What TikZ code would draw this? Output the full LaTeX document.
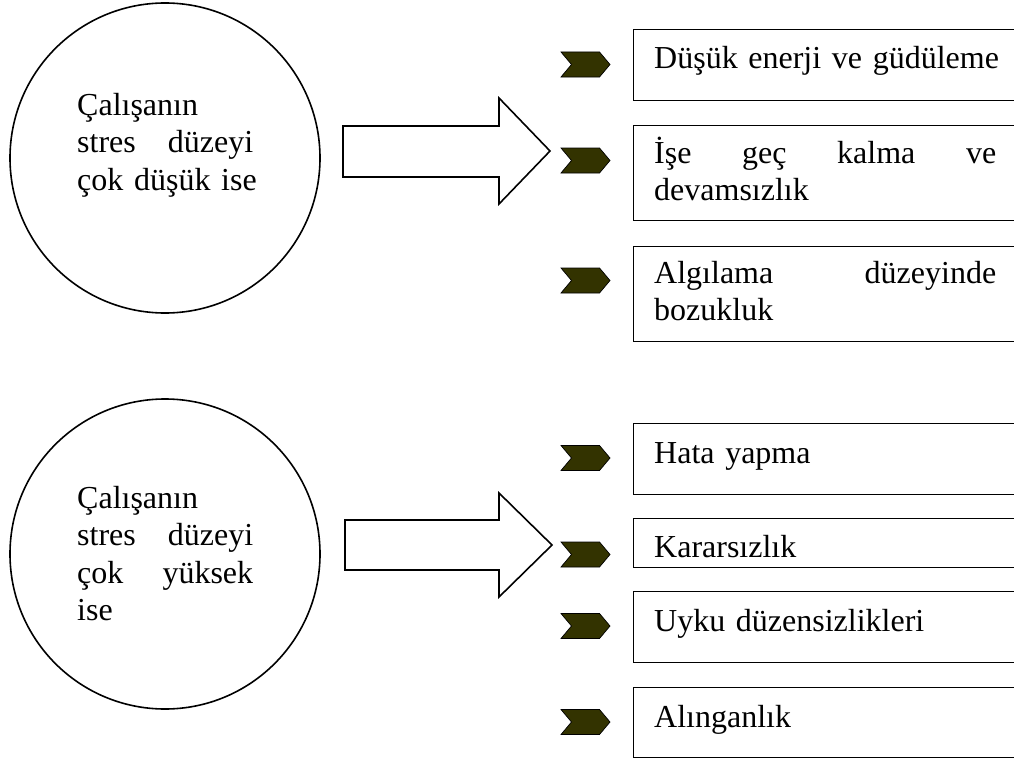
\documentclass[tikz,border=0pt]{standalone}
\usepackage{fontspec}
\setmainfont{Liberation Serif}
\usepackage{tikz}
\usetikzlibrary{calc,positioning,shapes.symbols}
\definecolor{cChev}{RGB}{51,51,0}

\begin{document}
\begin{tikzpicture}[x=1pt,y=-1pt,
    stresscirc/.style={draw,line width=1.6pt,circle,minimum size=310pt,inner sep=0pt},
    circtext/.style={anchor=base west,inner sep=0pt,text width=176pt,align=left},
    itembox/.style={draw,line width=1.4pt,rectangle,anchor=north west,minimum width=420pt,inner sep=0pt},
    itemtext/.style={anchor=base west,inner sep=0pt,text width=342pt,align=left},
    chev/.style={signal,signal from=west,signal to=east,signal pointer angle=100,
      draw=black,fill=cChev,line width=0.7pt,minimum width=49pt,minimum height=25pt,inner sep=0pt},
    bigarrow/.style={draw,line width=1.6pt,fill=white,line join=miter}]
  \fontsize{32}{37.5}\selectfont
  \useasboundingbox (0,0) rectangle (1014,760);
  \clip (0,0) rectangle (1014,760);

  % low stress
  \node[stresscirc] (lowcirc) at (165,158) {};
  \node[circtext] (lowtext) at (77,115)
    {Çalışanın\\stres\hfill düzeyi\\\mbox{çok düşük ise}};
  \coordinate (lowtail) at (343,126);
  \draw[bigarrow] (lowtail) -- ++(156,0) -- ++(0,-28) -- ++(51,53)
    -- ++(-51,53) -- ++(0,-27) -- ++(-156,0) -- cycle;

  \node[itembox,minimum height=71pt] (b1) at (633,29) {};
  \node[itemtext] (t1) at ($(b1.north west)+(21,40)$) {\mbox{Düşük enerji ve güdüleme}};
  \node[itembox,minimum height=95pt] (b2) at (633,125) {};
  \node[itemtext] (t2) at ($(b2.north west)+(21,38)$)
    {İşe\hfill geç\hfill kalma\hfill ve\\devamsızlık};
  \node[itembox,minimum height=95pt] (b3) at (633,246) {};
  \node[itemtext] (t3) at ($(b3.north west)+(21,37)$)
    {Algılama\hfill düzeyinde\\bozukluk};

  \node[chev] (c1) at (585.5,64.5) {};
  \node[chev] (c2) at (585.5,160.5) {};
  \node[chev] (c3) at (585.5,280.5) {};

  % high stress
  \node[stresscirc] (highcirc) at (165,554) {};
  \node[circtext] (hightext) at (77,508)
    {Çalışanın\\stres\hfill düzeyi\\çok\hfill yüksek\\ise};
  \coordinate (hightail) at (345,520);
  \draw[bigarrow] (hightail) -- ++(154,0) -- ++(0,-27) -- ++(53,52)
    -- ++(-53,52) -- ++(0,-27) -- ++(-154,0) -- cycle;

  \node[itembox,minimum height=71pt] (b4) at (633,423) {};
  \node[itemtext] (t4) at ($(b4.north west)+(21,40)$) {Hata yapma};
  \node[itembox,minimum height=49pt] (b5) at (633,518) {};
  \node[itemtext] (t5) at ($(b5.north west)+(21,39)$) {Kararsızlık};
  \node[itembox,minimum height=71pt] (b6) at (633,591) {};
  \node[itemtext] (t6) at ($(b6.north west)+(21,40)$) {Uyku düzensizlikleri};
  \node[itembox,minimum height=70pt] (b7) at (633,687) {};
  \node[itemtext] (t7) at ($(b7.north west)+(21,40)$) {Alınganlık};

  \node[chev] (c4) at (585.5,458) {};
  \node[chev] (c5) at (585.5,554.5) {};
  \node[chev] (c6) at (585.5,626) {};
  \node[chev] (c7) at (585.5,722) {};
\end{tikzpicture}
\end{document}
